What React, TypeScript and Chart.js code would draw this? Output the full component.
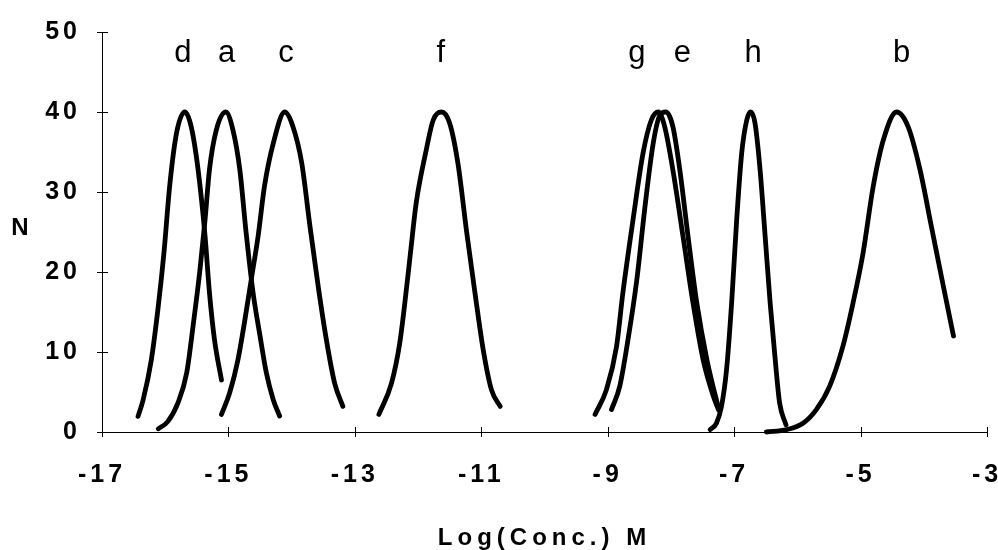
import React, { useEffect, useRef } from 'react';
import { Chart, registerables } from 'chart.js';

Chart.register(...registerables);

// Axis ranges and ticks
const xMin = -17;
const xMax = -3;
const xStep = 2;
const yMin = 0;
const yMax = 50;
const yStep = 10;

// Distribution curves: log concentration vs N
const dX = [-16.43, -16.35, -16.22, -16.11, -16.02, -15.93, -15.82, -15.69, -15.59, -15.48, -15.37, -15.3, -15.22, -15.11];
const dY = [1.95, 4, 9, 15.7, 22.4, 30.7, 37.4, 40, 38.2, 32.8, 24.5, 17.4, 11.5, 6.5];

const aX = [-16.11, -15.96, -15.8, -15.66, -15.56, -15.45, -15.37, -15.3, -15.19, -15.04, -14.93, -14.82, -14.72, -14.61, -14.5, -14.4, -14.29, -14.19];
const aY = [0.4, 1.3, 3.6, 7.4, 13.2, 20.3, 26.5, 32.8, 37.8, 40, 37.8, 32.8, 24.9, 17.4, 12, 7.4, 4, 2];

const cX = [-15.11, -14.98, -14.85, -14.74, -14.64, -14.53, -14.43, -14.29, -14.11, -13.98, -13.84, -13.71, -13.58, -13.45, -13.32, -13.19];
const cY = [2.2, 4.9, 9, 14, 19, 24.5, 30.7, 36.1, 40, 38.2, 33.6, 25.7, 18.2, 11.5, 6.1, 3.2];

const fX = [-12.62, -12.42, -12.29, -12.21, -12.12, -12.03, -11.88, -11.76, -11.63, -11.5, -11.37, -11.23, -11.1, -10.97, -10.84, -10.7];
const fY = [2.2, 6.1, 11.1, 16.1, 22.4, 28.6, 34.9, 39, 40, 38.6, 33.6, 24.9, 17.4, 10.3, 5.3, 3.2];

const gX = [-9.2, -9.02, -8.86, -8.76, -8.6, -8.44, -8.31, -8.2, -8.1, -7.97, -7.81, -7.65, -7.49, -7.33, -7.25];
const gY = [2.2, 5.3, 10.7, 17.4, 26.5, 34.9, 39, 40, 38.2, 32.8, 24.5, 16.1, 9, 4.5, 2.8];

const eX = [-8.94, -8.81, -8.68, -8.54, -8.41, -8.28, -8.18, -8.08, -7.97, -7.86, -7.73, -7.59, -7.43, -7.28, -7.23];
const eY = [2.8, 5.7, 11.5, 19, 28.2, 36.1, 39.5, 40, 38.2, 32.8, 24.5, 16.1, 9, 4, 2.6];

const hX = [-7.38, -7.28, -7.2, -7.12, -7.04, -6.96, -6.88, -6.8, -6.74, -6.67, -6.59, -6.51, -6.43, -6.36, -6.28, -6.18];
const hY = [0.3, 1.1, 3.2, 7.8, 16.1, 26.5, 34.9, 39, 40, 38.6, 32.8, 24.5, 16.1, 9.9, 3.6, 0.9];

const bX = [-6.49, -6.17, -5.91, -5.7, -5.49, -5.28, -5.12, -4.96, -4.8, -4.64, -4.43, -4.25, -4.06, -3.88, -3.69, -3.53];
const bY = [0, 0.3, 1.1, 2.8, 5.7, 10.7, 16.1, 22.4, 30.7, 36.5, 40, 38.2, 32.8, 25.7, 18.2, 12];

// Peak letters written above the curves
const peakNames = ['d', 'a', 'c', 'f', 'g', 'e', 'h', 'b'];
const peakNameX = [-15.72, -15.03, -14.09, -11.64, -8.54, -7.82, -6.7, -4.35];
const peakNameY = 46.2;

const xTitle = 'Log(Conc.) M';
const yTitle = 'N';

const curves = [
  { name: 'd', xs: dX, ys: dY },
  { name: 'a', xs: aX, ys: aY },
  { name: 'c', xs: cX, ys: cY },
  { name: 'f', xs: fX, ys: fY },
  { name: 'g', xs: gX, ys: gY },
  { name: 'e', xs: eX, ys: eY },
  { name: 'h', xs: hX, ys: hY },
  { name: 'b', xs: bX, ys: bY },
];

const FONT = '"Liberation Sans", Arial, Helvetica, sans-serif';

// Tick marks that cross both axes, plus axis titles and peak letters
const decorPlugin = {
  id: 'decor',
  beforeDraw(chart: any) {
    chart.ctx.letterSpacing = '4px';
  },
  afterDraw(chart: any) {
    const ctx = chart.ctx;
    const { left, right, bottom } = chart.chartArea;
    const xs = chart.scales.x;
    const ys = chart.scales.y;
    ctx.save();
    ctx.strokeStyle = '#000';
    ctx.lineWidth = 1;
    ctx.beginPath();
    for (let v = xMin; v <= xMax; v += xStep) {
      const px = Math.round(xs.getPixelForValue(v)) + 0.5;
      ctx.moveTo(px, bottom - 5);
      ctx.lineTo(px, bottom + 5);
    }
    for (let v = yMin; v <= yMax; v += yStep) {
      const py = Math.round(ys.getPixelForValue(v)) + 0.5;
      ctx.moveTo(left - 5, py);
      ctx.lineTo(left + 6, py);
    }
    ctx.stroke();

    ctx.fillStyle = '#000';
    // x-axis title
    ctx.letterSpacing = '5px';
    ctx.font = `bold 24px ${FONT}`;
    ctx.textAlign = 'center';
    ctx.textBaseline = 'alphabetic';
    ctx.fillText(xTitle, (left + right) / 2, 545);
    // y-axis title
    ctx.letterSpacing = '0px';
    ctx.textBaseline = 'middle';
    ctx.fillText(yTitle, 20, 228);
    // peak letters
    ctx.font = `31px ${FONT}`;
    ctx.textBaseline = 'alphabetic';
    peakNames.forEach((n, i) => {
      ctx.fillText(n, xs.getPixelForValue(peakNameX[i]), ys.getPixelForValue(peakNameY));
    });
    ctx.restore();
    ctx.letterSpacing = '0px';
  },
};

export default function App() {
  const canvasRef = useRef<HTMLCanvasElement | null>(null);

  useEffect(() => {
    const canvas = canvasRef.current;
    if (!canvas) return;
    const chart = new Chart(canvas, {
      type: 'scatter',
      data: {
        datasets: curves.map((c) => ({
          label: c.name,
          data: c.xs.map((x, i) => ({ x, y: c.ys[i] })),
          showLine: true,
          borderColor: '#000',
          backgroundColor: '#000',
          borderWidth: 4.8,
          borderCapStyle: 'round' as const,
          borderJoinStyle: 'round' as const,
          pointRadius: 0,
          cubicInterpolationMode: 'monotone' as const,
          clip: false as any,
        })),
      },
      options: {
        responsive: false,
        animation: false,
        devicePixelRatio: 1,
        layout: { padding: { left: 0, right: 11, top: 32, bottom: 0 } },
        plugins: {
          legend: { display: false },
          tooltip: { enabled: false },
        },
        scales: {
          x: {
            type: 'linear',
            min: xMin,
            max: xMax,
            grid: { drawOnChartArea: false, drawTicks: false },
            border: { display: true, color: '#000', width: 1 },
            ticks: {
              stepSize: xStep,
              color: '#000',
              padding: 28,
              font: { family: FONT, size: 25, weight: 'bold' },
              maxRotation: 0,
            },
            afterFit(scale: any) {
              scale.height = 118;
              scale.paddingLeft = 0;
              scale.paddingRight = 0;
            },
          },
          y: {
            type: 'linear',
            min: yMin,
            max: yMax,
            grid: { drawOnChartArea: false, drawTicks: false },
            border: { display: true, color: '#000', width: 1 },
            ticks: {
              stepSize: yStep,
              color: '#000',
              padding: 21,
              font: { family: FONT, size: 25, weight: 'bold' },
            },
            afterFit(scale: any) {
              scale.width = 102;
              scale.paddingTop = 0;
              scale.paddingBottom = 0;
            },
          },
        },
      },
      plugins: [decorPlugin],
    });
    return () => chart.destroy();
  }, []);

  return (
    <div style={{ position: 'absolute', left: 0, top: 0, width: 998, height: 550, background: '#fff' }}>
      <canvas ref={canvasRef} width={998} height={550} style={{ display: 'block' }} />
    </div>
  );
}
